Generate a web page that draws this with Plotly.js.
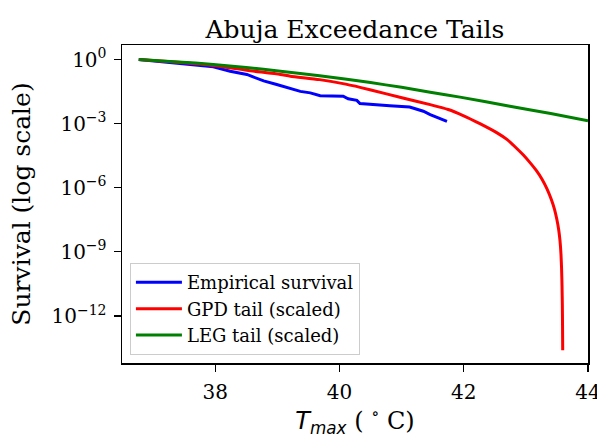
<!DOCTYPE html>
<html>
<head>
<meta charset="utf-8">
<script src="https://cdn.plot.ly/plotly-3.0.1.min.js"></script>
<style>html,body{margin:0;padding:0;background:#fff;}#chart{width:597px;height:438px;}</style>
</head>
<body>
<div id="chart"></div>
<script>
// Empirical survival
const empX = [36.77, 37.2, 37.6, 37.97, 38.24, 38.51, 38.6, 38.78, 38.99, 39.21, 39.37, 39.53, 39.69, 40.06, 40.14, 40.28, 40.33, 40.81, 41.13, 41.35, 41.46, 41.73];
const empY = [1.0, 0.759, 0.575, 0.457, 0.282, 0.200, 0.158, 0.100, 0.0676, 0.0447, 0.0324, 0.0275, 0.0204, 0.0191, 0.0145, 0.0123, 0.00871, 0.00692, 0.00603, 0.00380, 0.00263, 0.00129];
// GPD tail (scaled)
const gpdX = [36.77, 37.4, 37.97, 38.51, 39.05, 39.21, 39.68, 40.1, 40.49, 41.02, 41.46, 41.75, 41.99, 42.26, 42.53, 42.7, 42.85, 42.96, 43.06, 43.17, 43.26, 43.34, 43.41, 43.46, 43.5, 43.53, 43.55, 43.565, 43.575, 43.582, 43.587, 43.59, 43.593];
const gpdY = [1.0, 0.741, 0.525, 0.316, 0.200, 0.166, 0.115, 0.0708, 0.0389, 0.0158, 0.00776, 0.00457, 0.0024, 0.001, 3.80e-4, 1.78e-4, 7.08e-5, 3.39e-5, 1.58e-5, 6.31e-6, 2.51e-6, 8.91e-7, 2.82e-7, 1e-7, 3.16e-8, 1e-8, 3.16e-9, 7.94e-10, 1.58e-10, 2.51e-11, 3.16e-12, 3.98e-13, 2.51e-14];
// LEG tail (scaled)
const legX = [36.77, 37.4, 37.97, 38.5, 39.05, 39.68, 40.5, 41.0, 41.46, 41.94, 42.72, 43.4, 44.0];
const legY = [1.0, 0.776, 0.589, 0.427, 0.282, 0.174, 0.0832, 0.0501, 0.0295, 0.0174, 0.00676, 0.00295, 0.00138];
const names = ["Empirical survival", "GPD tail (scaled)", "LEG tail (scaled)"];
const xTicks = [38, 40, 42, 44];
const yTicks = [1, 1e-3, 1e-6, 1e-9, 1e-12];
const yTickText = ["10<sup>0</sup>", "10<sup>−3</sup>", "10<sup>−6</sup>", "10<sup>−9</sup>", "10<sup>−12</sup>"];

const serif = "DejaVu Serif";
const traces = [
  {x: empX, y: empY, name: names[0], mode: "lines", line: {color: "#0000ff", width: 3}},
  {x: gpdX, y: gpdY, name: names[1], mode: "lines", line: {color: "#ff0000", width: 3, shape: "spline", smoothing: 0.6}},
  {x: legX, y: legY, name: names[2], mode: "lines", line: {color: "#008000", width: 3, shape: "spline", smoothing: 0.6}}
];
const layout = {
  width: 597, height: 438,
  margin: {l: 122, r: 9, t: 45, b: 75},
  paper_bgcolor: "#fff", plot_bgcolor: "#fff",
  font: {family: serif, color: "#000", size: 20},
  title: {text: "Abuja Exceedance Tails", font: {family: serif, size: 25, color: "#000"}, x: 0.5, xref: "paper", y: 1, yref: "paper", yanchor: "bottom", pad: {b: 7}},
  showlegend: true,
  legend: {x: 0.017, y: 0.025, xanchor: "left", yanchor: "bottom", bgcolor: "rgba(255,255,255,0.8)", bordercolor: "#cccccc", borderwidth: 1, font: {family: serif, size: 18, color: "#000"}, tracegroupgap: 0, itemwidth: 46},
  xaxis: {
    range: [36.5, 44], tickvals: xTicks, ticktext: xTicks.map(String), ticklabeloverflow: "allow",
    showgrid: false, zeroline: false, showline: true, linecolor: "#000", linewidth: 1.5, mirror: true,
    ticks: "outside", ticklen: 7, tickwidth: 1.2, tickcolor: "#000", tickfont: {family: serif, size: 20}, ticklabelstandoff: 3,
    title: {text: '<span style="font-family:DejaVu Sans;font-style:italic">T<sub>max</sub></span> ( <sup>∘</sup> C)', font: {family: serif, size: 24}, standoff: 12}
  },
  yaxis: {
    type: "log", range: [-14.2, 0.68], tickvals: yTicks, ticktext: yTickText,
    showgrid: false, zeroline: false, showline: true, linecolor: "#000", linewidth: 1.5, mirror: true,
    ticks: "outside", ticklen: 7, tickwidth: 1.2, tickcolor: "#000", tickfont: {family: serif, size: 20}, ticklabelstandoff: 3,
    title: {text: "Survival (log scale)", font: {family: serif, size: 25}, standoff: 14}
  }
};
Plotly.newPlot("chart", traces, layout, {displayModeBar: false, staticPlot: true});
</script>
</body>
</html>
